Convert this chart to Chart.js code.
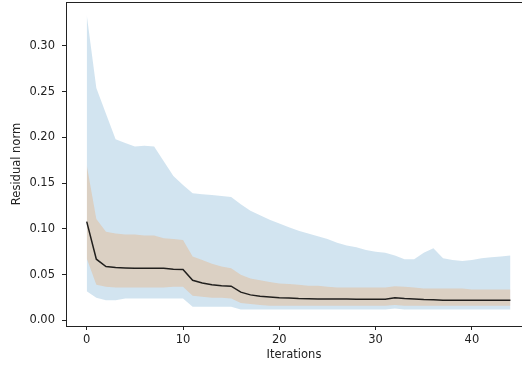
<!DOCTYPE html>
<html lang="en">

<head>
    <meta charset="UTF-8">
    <title>Residual norm</title>
    <script src="https://cdn.jsdelivr.net/npm/chart.js"></script>
    <style>
        body {
            margin: 0;
            background: #ffffff;
        }

        #wrap {
            width: 522px;
            height: 366px;
        }
    </style>
</head>

<body>
    <div id="wrap"><canvas id="residualChart"></canvas></div>

    <script>
        // Data
        const iterations = [0, 1, 2, 3, 4, 5, 6, 7, 8, 9, 10, 11, 12, 13, 14, 15, 16, 17, 18, 19, 20, 21,
            22, 23, 24, 25, 26, 27, 28, 29, 30, 31, 32, 33, 34, 35, 36, 37, 38, 39, 40, 41, 42, 43, 44];
        const outerUpper = [0.334, 0.254, 0.226, 0.198, 0.194, 0.190, 0.191, 0.190, 0.174, 0.158, 0.148,
            0.139, 0.138, 0.137, 0.136, 0.135, 0.127, 0.120, 0.115, 0.110, 0.106, 0.102, 0.098, 0.095,
            0.092, 0.089, 0.085, 0.082, 0.080, 0.077, 0.075, 0.074, 0.071, 0.067, 0.067, 0.074, 0.079,
            0.068, 0.066, 0.065, 0.066, 0.068, 0.069, 0.070, 0.071];
        const outerLower = [0.032, 0.025, 0.022, 0.022, 0.024, 0.024, 0.024, 0.024, 0.024, 0.024, 0.024,
            0.015, 0.015, 0.015, 0.015, 0.015, 0.012, 0.012, 0.012, 0.012, 0.012, 0.012, 0.012, 0.012,
            0.012, 0.012, 0.012, 0.012, 0.012, 0.012, 0.012, 0.012, 0.013, 0.012, 0.012, 0.012, 0.012,
            0.012, 0.012, 0.012, 0.012, 0.012, 0.012, 0.012, 0.012];
        const innerUpper = [0.170, 0.111, 0.097, 0.095, 0.094, 0.094, 0.093, 0.093, 0.090, 0.089, 0.088,
            0.070, 0.066, 0.062, 0.059, 0.057, 0.050, 0.046, 0.044, 0.042, 0.0405, 0.040, 0.039, 0.038,
            0.038, 0.037, 0.036, 0.036, 0.036, 0.036, 0.036, 0.036, 0.0375, 0.037, 0.036, 0.035, 0.035,
            0.035, 0.035, 0.035, 0.034, 0.034, 0.034, 0.034, 0.034];
        const innerLower = [0.068, 0.039, 0.037, 0.036, 0.036, 0.036, 0.036, 0.036, 0.036, 0.037, 0.037,
            0.027, 0.026, 0.025, 0.025, 0.024, 0.019, 0.018, 0.017, 0.016, 0.016, 0.016, 0.016, 0.016,
            0.016, 0.016, 0.016, 0.016, 0.016, 0.016, 0.016, 0.016, 0.017, 0.016, 0.016, 0.016, 0.016,
            0.016, 0.016, 0.016, 0.016, 0.016, 0.016, 0.016, 0.016];
        const meanNorm = [0.108, 0.067, 0.059, 0.058, 0.0575, 0.057, 0.057, 0.057, 0.057, 0.056, 0.0557,
            0.044, 0.041, 0.039, 0.038, 0.0375, 0.031, 0.028, 0.0266, 0.0258, 0.025, 0.0245, 0.024, 0.0238,
            0.0235, 0.0235, 0.0234, 0.0234, 0.0233, 0.0233, 0.0233, 0.0233, 0.0248, 0.024, 0.0235, 0.023,
            0.0228, 0.0222, 0.022, 0.022, 0.022, 0.022, 0.022, 0.022, 0.022];
        const xTicks = [0, 10, 20, 30, 40];
        const yTicks = [0.00, 0.05, 0.10, 0.15, 0.20, 0.25, 0.30];

        const pts = arr => arr.map((v, i) => ({ x: iterations[i], y: v }));
        const band = { borderWidth: 0, pointRadius: 0, tension: 0 };

        // top spine (right side is cut off in the reference)
        const topSpine = {
            id: 'topSpine',
            afterDraw(chart) {
                const { ctx, chartArea } = chart;
                ctx.save();
                ctx.strokeStyle = '#222';
                ctx.lineWidth = 1;
                ctx.beginPath();
                ctx.moveTo(chartArea.left, chartArea.top + 0.5);
                ctx.lineTo(chartArea.right, chartArea.top + 0.5);
                ctx.stroke();
                ctx.restore();
            }
        };

        const font = { family: 'DejaVu Sans', size: 11.5 };

        new Chart(document.getElementById('residualChart'), {
            type: 'line',
            data: {
                datasets: [
                    { ...band, data: pts(outerUpper), fill: '+1', backgroundColor: 'rgba(31,119,180,0.2)', order: 3 },
                    { ...band, data: pts(outerLower), fill: false, order: 4 },
                    { ...band, data: pts(innerUpper), fill: '+1', backgroundColor: 'rgba(255,127,14,0.2)', order: 1 },
                    { ...band, data: pts(innerLower), fill: false, order: 2 },
                    { data: pts(meanNorm), borderColor: 'rgba(0,0,0,0.85)', borderWidth: 1.5, pointRadius: 0, fill: false, order: 0 }
                ]
            },
            options: {
                responsive: true,
                maintainAspectRatio: false,
                animation: false,
                layout: { padding: { top: 2, right: 0, left: 0, bottom: 0 } },
                plugins: { legend: { display: false }, tooltip: { enabled: false } },
                scales: {
                    x: {
                        type: 'linear',
                        min: -2.15,
                        max: 45.2,
                        afterBuildTicks: s => { s.ticks = xTicks.map(v => ({ value: v })); },
                        afterFit: s => { s.height = 40; s.paddingLeft = 0; s.paddingRight = 0; },
                        ticks: { color: '#222', font, padding: 3, maxRotation: 0 },
                        grid: { drawOnChartArea: false, tickLength: 4, tickColor: '#222' },
                        border: { color: '#222', width: 1 },
                        title: { display: true, text: 'Iterations', color: '#222', font, padding: { top: 0, bottom: 4 } }
                    },
                    y: {
                        min: -0.006,
                        max: 0.348,
                        afterBuildTicks: s => { s.ticks = yTicks.map(v => ({ value: v })); },
                        afterFit: s => { s.width = 66; s.paddingTop = 0; s.paddingBottom = 0; },
                        ticks: { color: '#222', font, padding: 7, callback: v => v.toFixed(2) },
                        grid: { drawOnChartArea: false, tickLength: 4, tickColor: '#222' },
                        border: { color: '#222', width: 1 },
                        title: { display: true, text: 'Residual norm', color: '#222', font, padding: { top: 10, bottom: 0 } }
                    }
                }
            },
            plugins: [topSpine]
        });
    </script>
</body>

</html>
